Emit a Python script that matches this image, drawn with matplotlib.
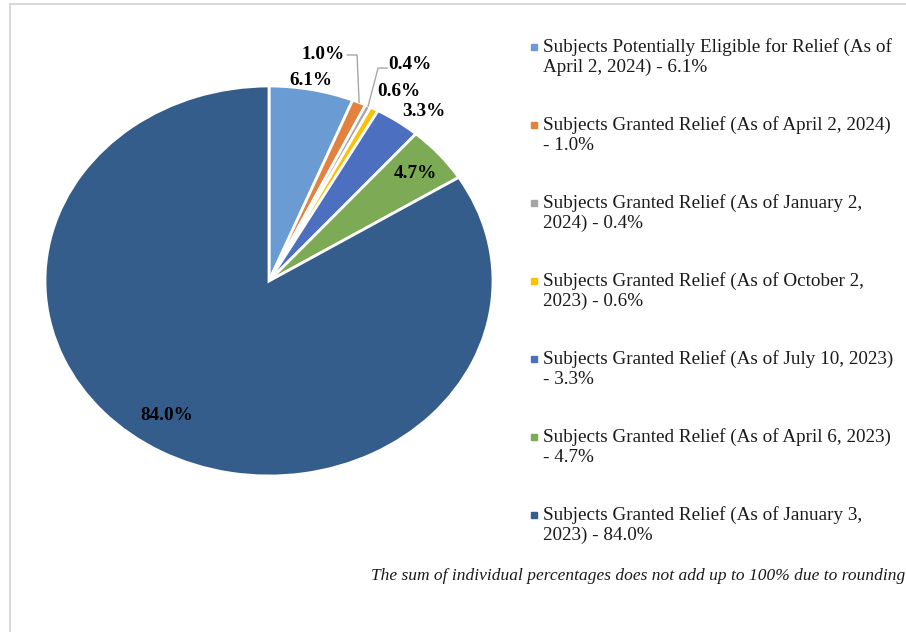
import numpy as np
import matplotlib
matplotlib.use("Agg")
import matplotlib.pyplot as plt
from matplotlib.lines import Line2D

plt.rcParams['font.family'] = ['Liberation Serif', 'DejaVu Serif']

labels = [
    "Subjects Potentially Eligible for Relief (As of\nApril 2, 2024) - 6.1%",
    "Subjects Granted Relief (As of April 2, 2024)\n- 1.0%",
    "Subjects Granted Relief (As of January 2,\n2024) - 0.4%",
    "Subjects Granted Relief (As of October 2,\n2023) - 0.6%",
    "Subjects Granted Relief (As of July 10, 2023)\n- 3.3%",
    "Subjects Granted Relief (As of April 6, 2023)\n- 4.7%",
    "Subjects Granted Relief (As of January 3,\n2023) - 84.0%",
]
shares = [6.1, 1.0, 0.4, 0.6, 3.3, 4.7, 84.0]
colors = ['#6A9BD3', '#E2823E', '#A5A5A5', '#FFC000', '#4C6FC0', '#7DAA55', '#355D8C']

fig = plt.figure(figsize=(9.06, 6.32), dpi=100)

# pie area (stretched a little wider than tall, like the original)
ax = fig.add_axes([45 / 906, 1 - 476 / 632, 448 / 906, 390 / 632])
wedges, _ = ax.pie(shares, colors=colors, startangle=90, counterclock=False,
                   wedgeprops=dict(edgecolor='white', linewidth=2))
ax.set_aspect('auto')
ax.set_xlim(-1, 1)
ax.set_ylim(-1, 1)

# label placement: (radius, angle nudge in degrees) for each slice
place = [(1.053, 0.7), (1.194, 12.1), (1.283, -3.1), (1.14, -2.6), (1.12, -3.0), (0.86, 0), (0.82, -5)]
for w, v, (r, da) in zip(wedges, shares, place):
    ang = np.deg2rad((w.theta1 + w.theta2) / 2 + da)
    ax.text(r * np.cos(ang), r * np.sin(ang), f"{v:.1f}%", ha='center', va='center_baseline',
            fontsize=13.8, fontweight='bold', color='black')

# leader lines for the two tiny slices
lead_col = '#A6A6A6'
w = wedges[1]
a = np.deg2rad((w.theta1 + w.theta2) / 2)
ax.plot([np.cos(a), 0.393, 0.350], [np.sin(a), 1.159, 1.159], color=lead_col, lw=1, clip_on=False)
w = wedges[2]
a = np.deg2rad((w.theta1 + w.theta2) / 2)
ax.plot([np.cos(a), 0.487, 0.527], [np.sin(a), 1.092, 1.092], color=lead_col, lw=1, clip_on=False)

# legend on the right, marker aligned with first line
y0 = 47
for i, (lab, c) in enumerate(zip(labels, colors)):
    y = 1 - (y0 + i * 78) / 632
    fig.add_artist(Line2D([533.5 / 906], [y], marker='s', markersize=4, color=c,
                          markeredgecolor=c, transform=fig.transFigure))
    fig.text(543 / 906, y + 9 / 632, lab, ha='left', va='top', fontsize=13.8, color='#1a1a1a',
             linespacing=1.22, transform=fig.transFigure)

fig.text(905 / 906, 1 - 576 / 632,
         "The sum of individual percentages does not add up to 100% due to rounding",
         ha='right', va='center', fontsize=12.5, style='italic', color='#1a1a1a')

# thin frame lines on top and left edges
fig.add_artist(Line2D([10 / 906, 1], [1 - 4 / 632, 1 - 4 / 632], color='#D9D9D9', lw=1.5,
                      transform=fig.transFigure))
fig.add_artist(Line2D([10 / 906, 10 / 906], [0, 1 - 4 / 632], color='#D9D9D9', lw=1.5,
                      transform=fig.transFigure))

fig.savefig("out.png", dpi=100, facecolor='white')
